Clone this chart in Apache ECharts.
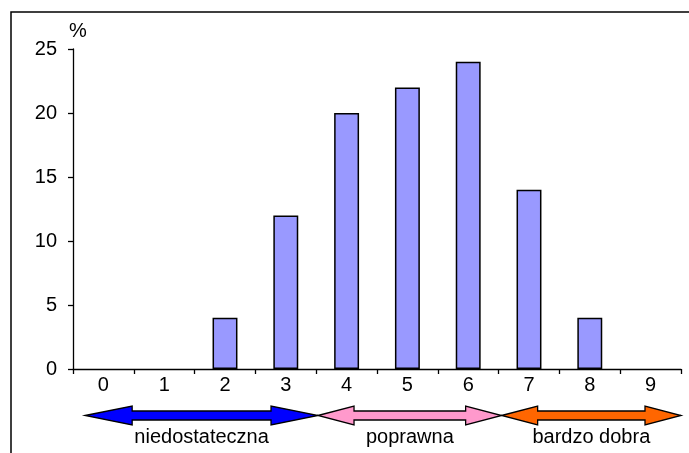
<!DOCTYPE html>
<html>
<head>
<meta charset="utf-8">
<script src="https://cdn.jsdelivr.net/npm/echarts@6/dist/echarts.min.js"></script>
<style>
  html, body { margin: 0; padding: 0; background: #fff; }
  #chart { width: 689px; height: 453px; }
</style>
</head>
<body>
<div id="chart"></div>
<script>
// Grades 0-9 and the share of students (%) with each grade
var grades = ['0', '1', '2', '3', '4', '5', '6', '7', '8', '9'];
var shares = [0, 0, 4, 12, 20, 22, 24, 14, 4, 0];
var yTicks = [0, 5, 10, 15, 20, 25];

// Grade bands under the axis, in category units (start, end)
var bandNames = ['niedostateczna', 'poprawna', 'bardzo dobra'];
var bandStart = [0.2, 4.03, 7.05];
var bandEnd = [4.03, 7.05, 10];
var bandColors = ['#0000FF', '#FF99CC', '#FF6600'];
var bandHead = [47, 36, 36];

var FONT = 'Liberation Sans, Arial, sans-serif';
var FS = 20;
var G = { left: 73, right: 8, top: 49, bottom: 84 };
var W = 689, H = 453;

var chart = echarts.init(document.getElementById('chart'));

function catToPx(c) {
  var w = W - G.left - G.right;
  return G.left + c / grades.length * w;
}

function arrow(x1, x2, yc, head, color) {
  var hh = 9.5, sh = 4.5;
  return {
    type: 'polygon',
    shape: { points: [
      [x1, yc], [x1 + head, yc - hh], [x1 + head, yc - sh],
      [x2 - head, yc - sh], [x2 - head, yc - hh], [x2, yc],
      [x2 - head, yc + hh], [x2 - head, yc + sh],
      [x1 + head, yc + sh], [x1 + head, yc + hh]
    ] },
    style: { fill: color, stroke: '#000', lineWidth: 1.3 },
    z: 10
  };
}

var graphics = [{
  type: 'rect',
  shape: { x: 11, y: 12, width: 900, height: 600 },
  style: { fill: 'none', stroke: '#000', lineWidth: 1.5 },
  z: 0
}, {
  type: 'text',
  x: 69, y: 31,
  style: { text: '%', fontFamily: FONT, fontSize: FS, fill: '#000', verticalAlign: 'middle' }
}];

for (var i = 0; i < bandNames.length; i++) {
  var x1 = catToPx(bandStart[i]), x2 = catToPx(bandEnd[i]);
  graphics.push(arrow(x1, x2, 415.5, bandHead[i], bandColors[i]));
  graphics.push({
    type: 'text',
    x: (x1 + x2) / 2, y: 437,
    style: {
      text: bandNames[i], fontFamily: FONT, fontSize: FS,
      fill: '#000', align: 'center', verticalAlign: 'middle'
    },
    z: 11
  });
}

// zero-height bars get no outline so nothing is drawn for them
var barData = shares.map(function (v) {
  return v === 0 ? { value: v, itemStyle: { borderWidth: 0, opacity: 0 } } : v;
});

chart.setOption({
  animation: false,
  grid: G,
  xAxis: {
    type: 'category',
    data: grades,
    boundaryGap: true,
    axisLine: { lineStyle: { color: '#000', width: 1.3 } },
    axisTick: { show: true, inside: false, length: 5, lineStyle: { color: '#000', width: 1.3 } },
    axisLabel: { color: '#000', fontFamily: FONT, fontSize: FS, margin: 6 }
  },
  yAxis: {
    type: 'value',
    min: yTicks[0], max: yTicks[yTicks.length - 1], interval: 5,
    axisLine: { show: true, lineStyle: { color: '#000', width: 1.3 } },
    axisTick: { show: true, length: 5, lineStyle: { color: '#000', width: 1.3 } },
    splitLine: { show: false },
    axisLabel: { color: '#000', fontFamily: FONT, fontSize: FS, margin: 16 }
  },
  series: [{
    type: 'bar',
    data: barData,
    barWidth: '41%',
    itemStyle: { color: '#9999FF', borderColor: '#000', borderWidth: 1.5 }
  }],
  graphic: graphics
});
</script>
</body>
</html>
